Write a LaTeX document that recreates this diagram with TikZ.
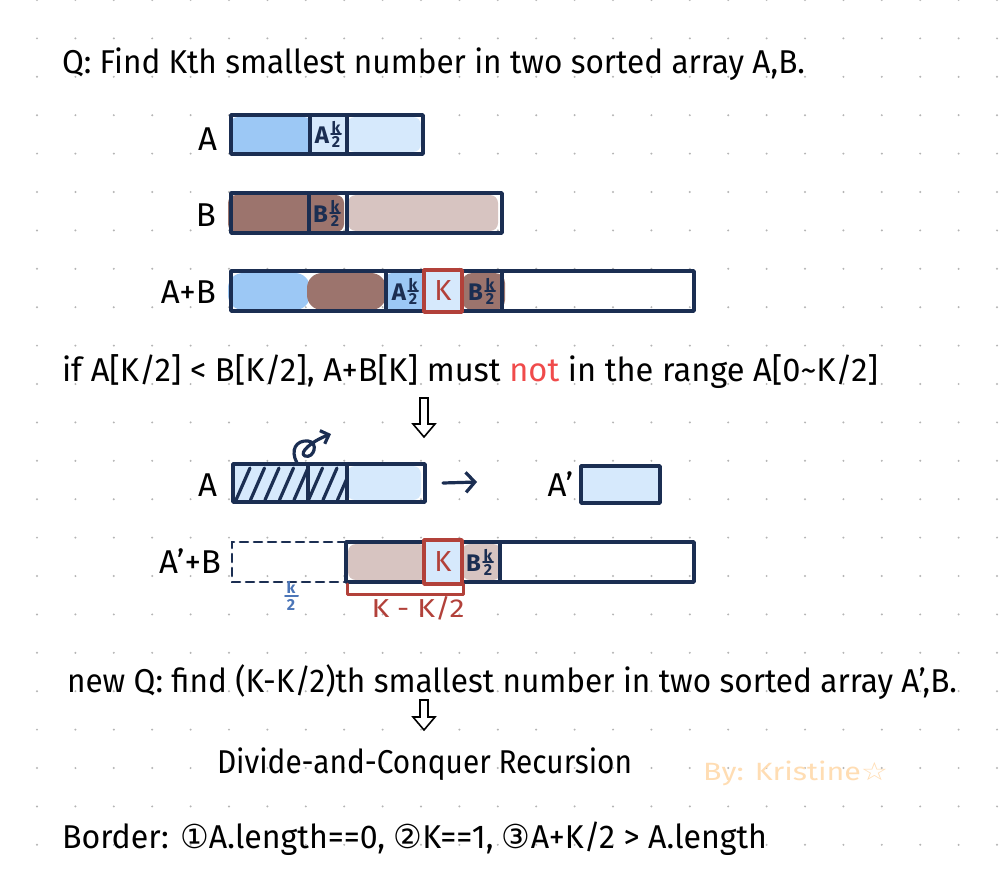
\documentclass[tikz,border=0pt]{standalone}
\usepackage{fontspec}
\setmainfont{Fira Sans}
\newfontfamily\dejavu{DejaVu Sans}
\usetikzlibrary{arrows.meta}
\definecolor{navy}{HTML}{1B2E52}
\definecolor{blueD}{HTML}{9CC8F5}
\definecolor{blueL}{HTML}{D6E9FC}
\definecolor{brownD}{HTML}{9C746D}
\definecolor{brownL}{HTML}{D7C4C1}
\definecolor{redK}{HTML}{B2413A}
\definecolor{notred}{HTML}{F04B4B}
\definecolor{peach}{HTML}{FFDDB3}
\definecolor{dotc}{HTML}{B4B4B4}
\definecolor{kblue}{HTML}{4C76B8}
\newcommand\fitw[2]{\resizebox{#1}{\height}{#2}}
% half-cell label: name, x, y, letter, colour
\newcommand\halfcell[5]{%
  \node[celltxt,text=#5,anchor=base east] (#1l) at (#2+2,#3+9) {#4};
  \node[fractxt,text=#5] (#1k) at (#2+9,#3-7) {k};
  \draw[draw=#5,line width=2pt,line cap=round] (#2+4,#3) -- (#2+14,#3);
  \node[fractxt,text=#5] (#1d) at (#2+9,#3+8) {2};
}
% outlined down arrow: name, x, ytop, ybottom
\newcommand\dnarr[4]{%
  \coordinate (#1) at (#2,#4);
  \draw[black,line width=1.6pt,line join=miter,fill=white]
    (#2-4,#3) -- (#2+4,#3) -- (#2+4,#4-13) -- (#2+11,#4-13) -- (#1)
    -- (#2-11,#4-13) -- (#2-4,#4-13) -- cycle;
}
\begin{document}
\begin{tikzpicture}[x=1pt,y=-1pt,
  bar/.style={draw=navy,line width=3.6pt,line join=round,line cap=round},
  kbox/.style={draw=redK,line width=3.6pt,fill=blueL,line join=round},
  txt/.style={inner sep=0pt,outer sep=0pt,font=\fontsize{33}{36}\selectfont,text=black,anchor=base west},
  lbl/.style={inner sep=0pt,outer sep=0pt,font=\fontsize{33}{36}\selectfont,text=black,anchor=base east},
  celltxt/.style={inner sep=0pt,outer sep=0pt,font=\fontsize{24}{25}\selectfont\bfseries},
  fractxt/.style={inner sep=0pt,outer sep=0pt,font=\fontsize{16}{17}\selectfont\bfseries},
  blob/.style={rounded corners=8pt}]
\useasboundingbox (0,0) rectangle (1000,880);
\fill[white] (0,0) rectangle (1000,880);
% dot grid
\foreach \i in {0,...,26}{\foreach \j in {0,...,23}{
  \fill[dotc] (\i*38.4-1.4,\j*38.4) circle (1.1pt);}}

% title
\node[txt] (title) at (62,74) {\fitw{743pt}{Q: Find Kth smallest number in two sorted array A,B.}};

% ---- A bar
\node[lbl] (labA) at (217,150) {A};
\fill[blueD,blob] (230,117) rectangle (312,153);
\fill[blueL] (310,117) rectangle (347,152);
\fill[blueL,blob] (347,117) rectangle (421,152);
\draw[bar] (231,115) rectangle (423,154);
\draw[bar] (310,115) -- (310,154);
\draw[bar] (347,115) -- (347,154);
\halfcell{ca}{327}{134}{A}{navy}

% ---- B bar
\node[lbl] (labB) at (216,226) {B};
\fill[brownD,blob] (228,195) rectangle (344,232);
\fill[brownL,blob] (348,195) rectangle (498,231);
\draw[bar] (231,193) rectangle (502,233);
\draw[bar] (309,193) -- (309,233);
\draw[bar] (347,193) -- (347,233);
\halfcell{cb}{326}{213}{B}{navy}

% ---- A+B bar
\node[lbl] (labAB) at (216,303) {A+B};
\fill[blueD,rounded corners=15pt] (228,273) rectangle (310,310);
\fill[brownD,rounded corners=15pt] (307,273) rectangle (386,310);
\fill[blueD,rounded corners=6pt] (386,273) rectangle (426,310);
\fill[brownD,rounded corners=10pt] (462,273) rectangle (505,310);
\draw[bar] (231,271) rectangle (694,311);
\draw[bar] (386,271) -- (386,311);
\draw[bar] (502,271) -- (502,311);
\draw[kbox] (424,270) rectangle (462,312);
\node[font=\fontsize{29}{30}\selectfont,text=redK,inner sep=0pt] (kab) at (443,291) {K};
\halfcell{cab1}{404}{291}{A}{navy}
\halfcell{cab2}{481}{291}{B}{navy}

% if line
\node[txt] (ifline) at (62,381) {\fitw{816pt}{if A[K/2] < B[K/2], A+B[K] must \textcolor{notred}{not} in the range A[0\textasciitilde K/2]}};
\dnarr{ar1}{424}{398}{437}

% ---- middle A bar (hatched)
\node[lbl] (labA2) at (217,496) {A};
\fill[blueL] (233,466) rectangle (347,500);
\fill[blueL,blob] (347,466) rectangle (421,500);
\begin{scope}
  \clip (233,464) rectangle (347,502);
  \foreach \k in {0,...,7}{
    \draw[navy,line width=3.2pt,line cap=round] (236+\k*14.5,500) -- (250+\k*14.5,468);}
\end{scope}
\draw[bar] (233,464) rectangle (425,502);
\draw[bar] (308,464) -- (308,502);
\draw[bar] (347,464) -- (347,502);
% curly arrow
\coordinate (curlS) at (297,463);
\coordinate (curlE) at (331,434);
\draw[navy,line width=3.2pt,line cap=round,line join=round,-{Straight Barb[length=7pt,width=14pt]}]
  (curlS) .. controls (290,450) and (296,440) .. (308,441)
  .. controls (319,442) and (314,459) .. (305,456)
  .. controls (298,453) and (312,441) .. (curlE);
% arrow to A'
\coordinate (arS) at (443,483);
\coordinate (arE) at (477,482);
\draw[navy,line width=3.2pt,line cap=round,line join=round,-{Straight Barb[length=9pt,width=20pt]}] (arS) -- (arE);
\node[lbl] (labAp) at (573,496) {A'};
\fill[blueL] (583,468) rectangle (658,501);
\draw[bar] (581,466) rectangle (660,503);

% ---- A'+B bar
\node[lbl] (labApB) at (221,573) {A'+B};
\draw[navy,line width=2.6pt,dash pattern=on 8pt off 6pt,line cap=round] (346,542) -- (232,542) -- (232,582) -- (346,582);
\fill[brownL,blob] (348,544) rectangle (427,580);
\fill[brownL,blob] (462,544) rectangle (501,580);
\draw[bar] (346,542) rectangle (694,582);
\draw[bar] (500,542) -- (500,582);
\draw[kbox] (424,540) rectangle (462,584);
\node[font=\fontsize{29}{30}\selectfont,text=redK,inner sep=0pt] (kapb) at (443,562) {K};
\halfcell{capb}{479}{562}{B}{navy}
% blue k/2
\node[inner sep=0pt,text=kblue,font=\fontsize{16}{17}\selectfont\bfseries] (bk) at (291,587) {k};
\draw[kblue,line width=2pt,line cap=round] (285,595.5) -- (298,595.5);
\node[inner sep=0pt,text=kblue,font=\fontsize{16}{17}\selectfont\bfseries] (b2) at (291,605) {2};
% red bracket
\coordinate (brL) at (347,584);
\coordinate (brR) at (463,584);
\draw[redK,line width=3pt,line join=round,line cap=round] (brL) -- (347,594) -- (463,594) -- (brR);
\node[inner sep=0pt,font=\fontsize{26}{28}\selectfont,text=redK,anchor=base] (kk2) at (418,617) {\fitw{93pt}{K - K/2}};

% new Q
\node[txt] (newq) at (67,692) {\fitw{890pt}{new Q: find (K-K/2)th smallest number in two sorted array A',B.}};
\dnarr{ar2}{424}{700}{730}
\node[txt] (dc) at (217,773) {\fitw{415pt}{Divide-and-Conquer Recursion}};
\node[inner sep=0pt,font=\fontsize{25}{27}\selectfont,text=peach,anchor=base west] (by) at (703,780) {\fitw{185pt}{By: Kristine{\dejavu ☆}}};
\node[txt] (border) at (62,848) {\fitw{705pt}{Border: {\dejavu ①}A.length==0, {\dejavu ②}K==1, {\dejavu ③}A+K/2 > A.length}};
\end{tikzpicture}
\end{document}
